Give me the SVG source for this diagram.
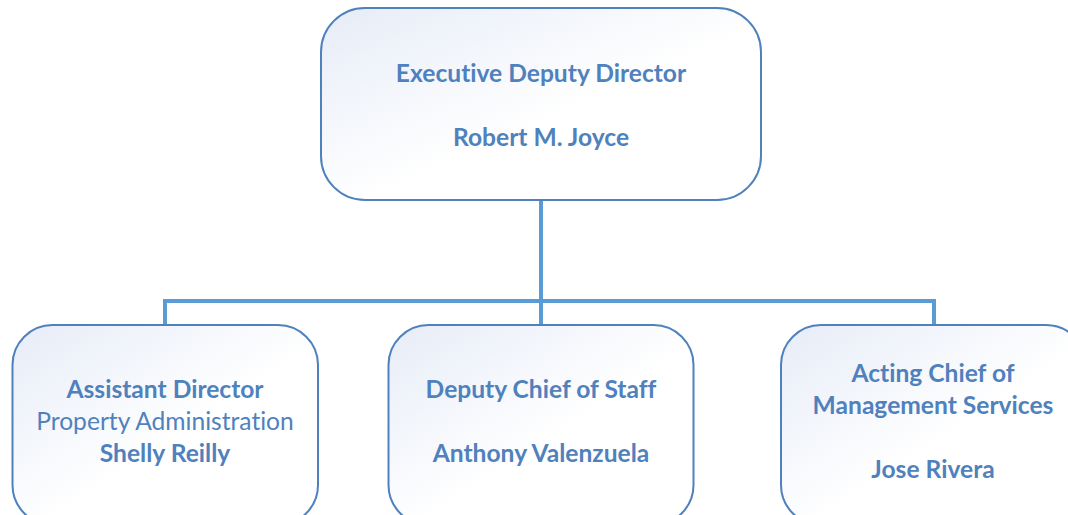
<svg xmlns="http://www.w3.org/2000/svg" width="1068" height="515" viewBox="0 0 1068 515">
<defs>
<linearGradient id="fill" x1="0" y1="0" x2="1" y2="1">
<stop offset="0" stop-color="#e6ecf7"/>
<stop offset="0.55" stop-color="#ffffff"/>
<stop offset="1" stop-color="#ffffff"/>
</linearGradient>
<style>
.box{fill:url(#fill);stroke:#4f81bd;stroke-width:2}
.conn{fill:none;stroke:#5b9bd5;stroke-width:4}
text{font-family:Lato,"Open Sans","Liberation Sans",sans-serif;font-size:24.6px;fill:#4f81bd;text-anchor:middle;font-variant-ligatures:none;font-feature-settings:"liga" 0,"dlig" 0}
.b{font-weight:bold}
</style>
</defs>
<rect width="1068" height="515" fill="#ffffff"/>
<g id="connectors">
<path class="conn" d="M541 200 V301 M165 325 V301 H934 V325 M541 301 V325"/>
</g>
<g id="n-exec">
<rect class="box" x="321" y="8" width="440" height="192" rx="44" ry="44"/>
<text class="b" x="541" y="81.5">Executive Deputy Director</text>
<text class="b" x="541" y="145.5">Robert M. Joyce</text>
</g>
<g id="n-assistant">
<rect class="box" x="12.5" y="325" width="305.5" height="200" rx="40" ry="40"/>
<text class="b" x="165" y="397.5">Assistant Director</text>
<text x="165" y="429.5">Property Administration</text>
<text class="b" x="165" y="461.5">Shelly Reilly</text>
</g>
<g id="n-deputy">
<rect class="box" x="388.5" y="325" width="305" height="200" rx="40" ry="40"/>
<text class="b" x="541" y="397.5">Deputy Chief of Staff</text>
<text class="b" x="541" y="461.5">Anthony Valenzuela</text>
</g>
<g id="n-acting">
<rect class="box" x="781" y="325" width="305" height="200" rx="40" ry="40"/>
<text class="b" x="933" y="381.5">Acting Chief of</text>
<text class="b" x="933" y="413.5">Management Services</text>
<text class="b" x="933" y="477.5">Jose Rivera</text>
</g>
</svg>
